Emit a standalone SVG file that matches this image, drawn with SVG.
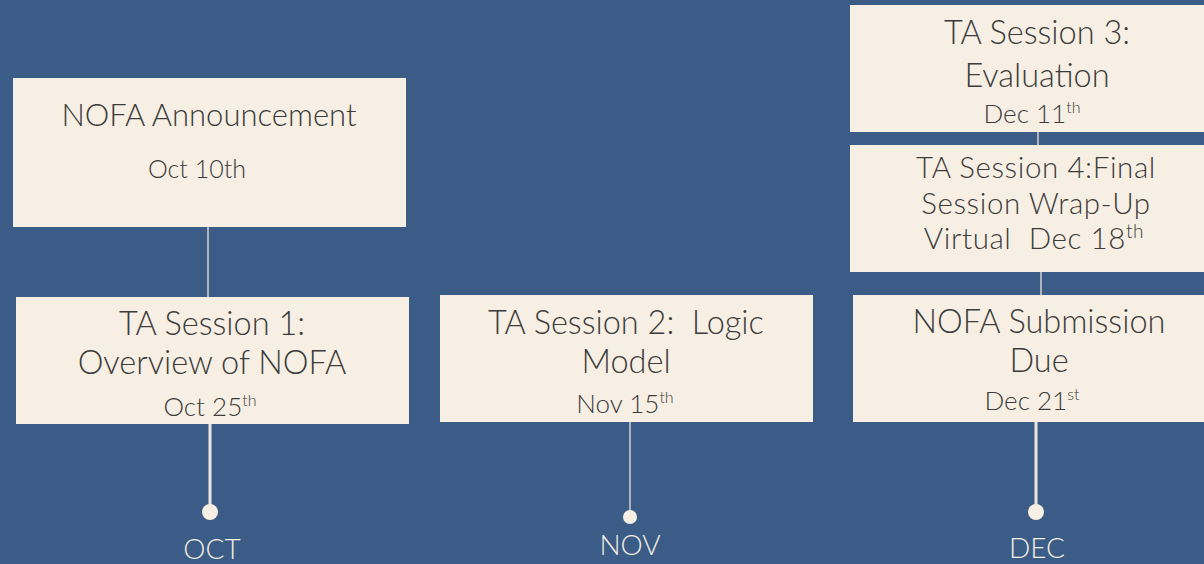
<svg xmlns="http://www.w3.org/2000/svg" width="1204" height="564" viewBox="0 0 1204 564">
<style>
.box{fill:#f7efe3}
.t{font-family:Lato,"Noto Sans",sans-serif;font-weight:300;fill:#3c3c3c;text-anchor:middle}
.big{font-size:32.5px}
.mid{font-size:26px}
.sup{font-size:16px}
.thin{stroke:#d6d2cb;stroke-width:1.5;fill:none}
.thick{stroke:#ece6dc;stroke-width:3;fill:none}
.dot{fill:#f7efe3}
.month{font-family:Lato,"Noto Sans",sans-serif;font-weight:300;fill:#f3ede2;font-size:28px;text-anchor:middle}
</style>
<rect width="1204" height="564" fill="#3a5c86"/>
<g id="connectors">
<line class="thin" x1="208" y1="226" x2="208" y2="297"/>
<line class="thick" x1="210" y1="424" x2="210" y2="512"/>
<line class="thin" x1="630" y1="422" x2="630" y2="517"/>
<line class="thin" x1="1038" y1="132" x2="1038" y2="145"/>
<line class="thin" x1="1041" y1="272" x2="1041" y2="295"/>
<line class="thick" x1="1036" y1="422" x2="1036" y2="512"/>
<circle class="dot" cx="210" cy="512" r="8"/>
<circle class="dot" cx="630" cy="517" r="7"/>
<circle class="dot" cx="1036" cy="512" r="8"/>
</g>
<g id="n1">
<rect class="box" x="13" y="78" width="393" height="149"/>
<text class="t" x="209" y="126" font-size="31">NOFA Announcement</text>
<text class="t" x="197" y="178" font-size="25">Oct 10th</text>
</g>
<g id="n2">
<rect class="box" x="16" y="297" width="393" height="127"/>
<text class="t big" x="212" y="335">TA Session 1:<tspan x="212" dy="39">Overview of NOFA</tspan></text>
<text class="t mid" x="210" y="416">Oct 25<tspan class="sup" dy="-10">th</tspan></text>
</g>
<g id="n3">
<rect class="box" x="440" y="295" width="373" height="127"/>
<text class="t big" x="626" y="334" xml:space="preserve">TA Session 2:  Logic<tspan x="626" dy="39">Model</tspan></text>
<text class="t mid" x="625" y="413">Nov 15<tspan class="sup" dy="-10">th</tspan></text>
</g>
<g id="n4">
<rect class="box" x="850" y="5" width="354" height="127"/>
<text class="t big" x="1037" y="44">TA Session 3:<tspan x="1037" dy="43">Evaluation</tspan></text>
<text class="t mid" x="1032" y="123">Dec 11<tspan class="sup" dy="-10">th</tspan></text>
</g>
<g id="n5">
<rect class="box" x="850" y="145" width="354" height="127"/>
<text class="t" x="1036" y="178" font-size="29.5" letter-spacing="0.6" xml:space="preserve">TA Session 4:Final<tspan x="1036" dy="35.5">Session Wrap-Up</tspan><tspan x="1034" dy="35.5">Virtual  Dec 18</tspan><tspan font-size="19" dy="-11">th</tspan></text>
</g>
<g id="n6">
<rect class="box" x="853" y="295" width="351" height="127"/>
<text class="t big" x="1039" y="333">NOFA Submission<tspan x="1039" dy="39">Due</tspan></text>
<text class="t mid" x="1032" y="410">Dec 21<tspan class="sup" dy="-10">st</tspan></text>
</g>
<g id="months">
<text class="month" x="212" y="559">OCT</text>
<text class="month" x="630" y="555">NOV</text>
<text class="month" x="1037" y="558">DEC</text>
</g>
</svg>
